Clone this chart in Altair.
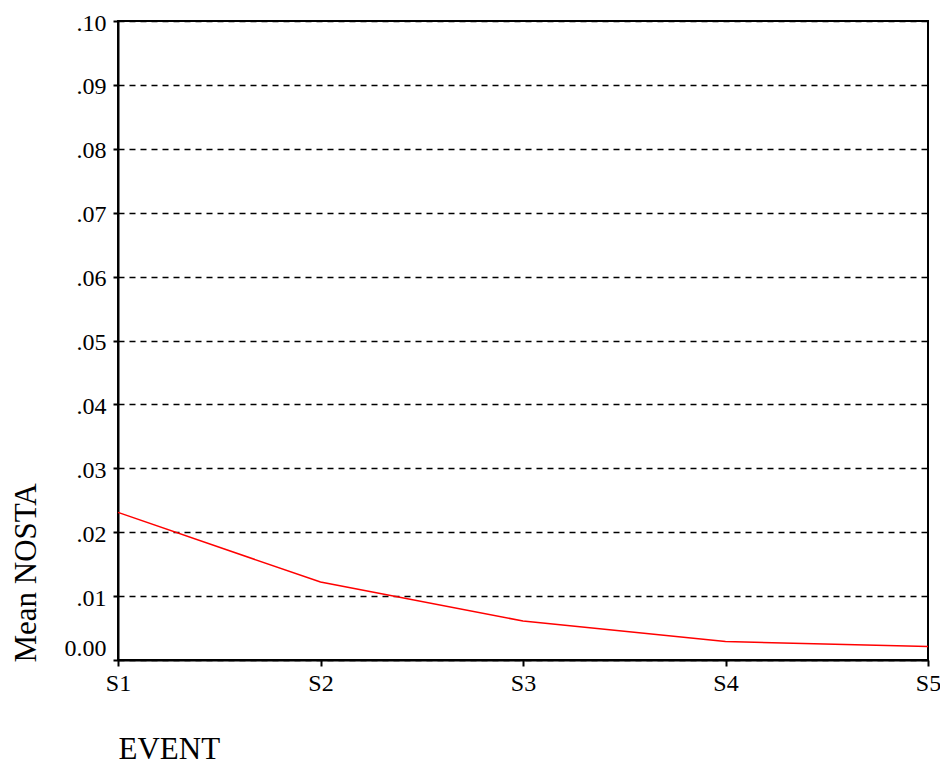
import altair as alt
import pandas as pd

events = ["S1", "S2", "S3", "S4", "S5"]
mean_nosta = [0.0231, 0.0122, 0.0061, 0.0029, 0.0021]

df = pd.DataFrame({"EVENT": events, "Mean NOSTA": mean_nosta})

FONT = "Liberation Serif"

y_ticks = [0.0, 0.01, 0.02, 0.03, 0.04, 0.05, 0.06, 0.07, 0.08, 0.09, 0.10]

line = alt.Chart(df).mark_line(color="#ff0000", strokeWidth=1.5).encode(
    x=alt.X(
        "EVENT:N",
        sort=events,
        scale=alt.Scale(type="point", padding=0),
        axis=alt.Axis(
            title="EVENT",
            titleAnchor="start",
            titleAlign="left",
            titleBaseline="alphabetic",
            titleX=0,
            titleY=98,
            labelAngle=0,
            labelBaseline="top",
            labelPadding=5,
            tickSize=6,
            grid=False,
        ),
    ),
    y=alt.Y(
        "Mean NOSTA:Q",
        scale=alt.Scale(domain=[0, 0.1], nice=False, zero=True),
        axis=alt.Axis(
            title="Mean NOSTA",
            titleAngle=270,
            titleAlign="left",
            titleBaseline="alphabetic",
            titleX=-83,
            titleY=641,
            values=y_ticks,
            labelExpr="datum.value == 0 ? '0.00' : replace(format(datum.value, '.2f'), '0.', '.')",
            labelPadding=7,
            labelBaseline="middle",
            labelOffset={"condition": {"test": "datum.value == 0", "value": -12}, "value": 2},
            tickSize=5,
            grid=True,
            gridColor="black",
            gridWidth=1.6,
            gridDash=[6, 5],
            gridOpacity=1,
        ),
    ),
)

chart = line.properties(
    width=810,
    height=639,
    background="white",
    autosize=alt.AutoSizeParams(type="none"),
    padding={"left": 110, "top": 13, "right": 12, "bottom": 106},
).configure_axis(
    labelFont=FONT,
    labelFontSize=24,
    labelColor="black",
    labelFlush=False,
    labelOverlap=False,
    titleFont=FONT,
    titleFontSize=31,
    titleFontWeight="normal",
    titleColor="black",
    tickColor="black",
    tickWidth=2,
    domainColor="black",
    domainWidth=2,
).configure_view(
    stroke="black",
    strokeWidth=2,
)

chart.save("out.html", embed_options={"renderer": "svg", "actions": False})
